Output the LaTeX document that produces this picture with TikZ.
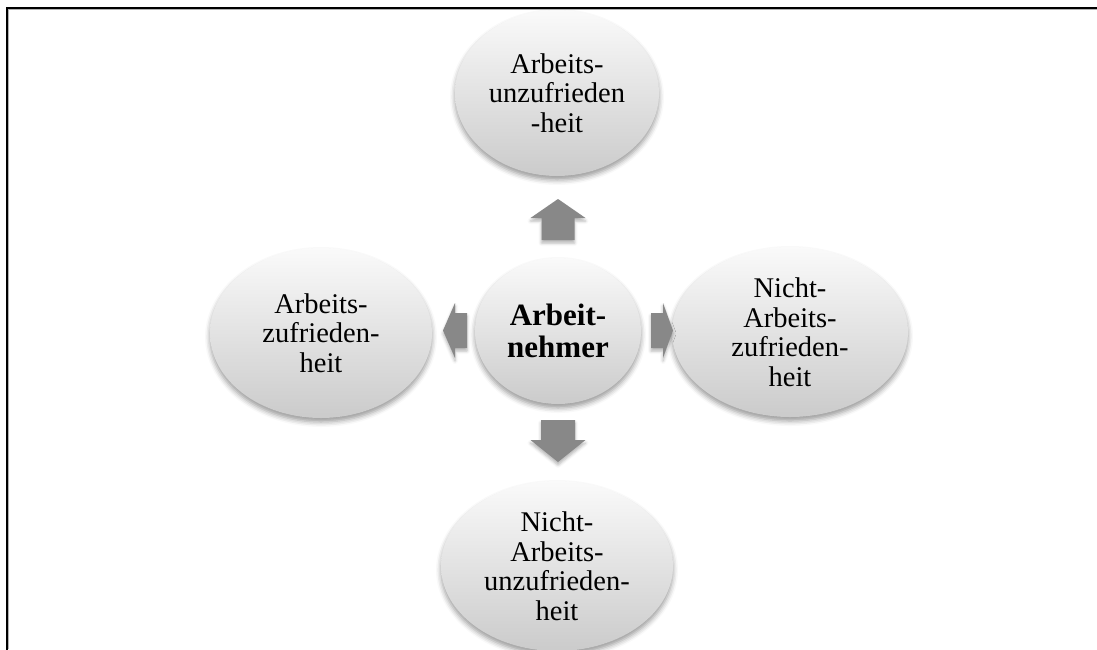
\documentclass[tikz,border=0pt]{standalone}
\usepackage{fontspec}
\setmainfont{Liberation Serif}
\usetikzlibrary{shapes.geometric,shadows.blur}

\definecolor{arrowgray}{RGB}{136,136,136}
\definecolor{ovaltop}{RGB}{250,250,250}
\definecolor{ovalbottom}{RGB}{203,203,203}

\tikzset{
  oval/.style={ellipse, inner sep=0pt, draw=none,
    top color=ovaltop, bottom color=ovalbottom,
    blur shadow={shadow xshift=0pt, shadow yshift=-4pt,
                 shadow blur radius=5pt, shadow opacity=40},
    align=center, font=\fontsize{28.5}{29.5}\selectfont},
  hub/.style={oval, font=\fontsize{31}{32}\selectfont\bfseries},
  arrowfill/.style={fill=arrowgray,
    blur shadow={shadow xshift=0pt, shadow yshift=-3pt,
                 shadow blur radius=3pt, shadow opacity=30}},
  % block arrow pointing along +x: #1 total length, #2 head length, #3 half shaft width
  pics/blockarrow/.style n args={3}{code={
    \fill[arrowfill] (-#1/2,-#3) -- ({#1/2-#2},-#3) -- ({#1/2-#2},-27.5)
      -- (#1/2,0) -- ({#1/2-#2},27.5) -- ({#1/2-#2},#3) -- (-#1/2,#3) -- cycle;
  }},
  frameline/.style={line width=2.2pt, line cap=rect, line join=miter},
  frameshade/.style={line width=1pt, gray!60}
}

\begin{document}
\begin{tikzpicture}[x=1pt,y=-1pt]
  \useasboundingbox (0,0) rectangle (1097,649);

  % ovals
  \node[oval, minimum width=204pt, minimum height=166pt] (top) at (557,93)
    {Arbeits-\\unzufrieden\\-heit};
  \node[hub, minimum width=166pt, minimum height=146pt] (hub) at (558,331)
    {Arbeit-\\nehmer};
  \node[oval, minimum width=222pt, minimum height=170pt] (left) at (321,333)
    {Arbeits-\\zufrieden-\\heit};
  \node[oval, minimum width=236pt, minimum height=170pt] (right) at (790,332)
    {Nicht-\\Arbeits-\\zufrieden-\\heit};
  \node[oval, minimum width=232pt, minimum height=170pt] (bottom) at (557,566)
    {Nicht-\\Arbeits-\\unzufrieden-\\heit};

  % block arrows from the hub outwards
  \pic[rotate=90]  at (558,219.5) {blockarrow={41}{19}{16.5}};
  \pic[rotate=-90] at (558,441)   {blockarrow={42}{22}{17}};
  \pic[rotate=180] at (455,330.5) {blockarrow={24}{12}{17.5}};
  \pic             at (662,330.5) {blockarrow={22}{10}{17.5}};

  % frame
  \draw[frameshade] (8.7,649) -- (8.7,9.6) -- (1097,9.6);
  \draw[frameline] (7,649) -- (7,7.8) -- (1097,7.8);
\end{tikzpicture}
\end{document}
